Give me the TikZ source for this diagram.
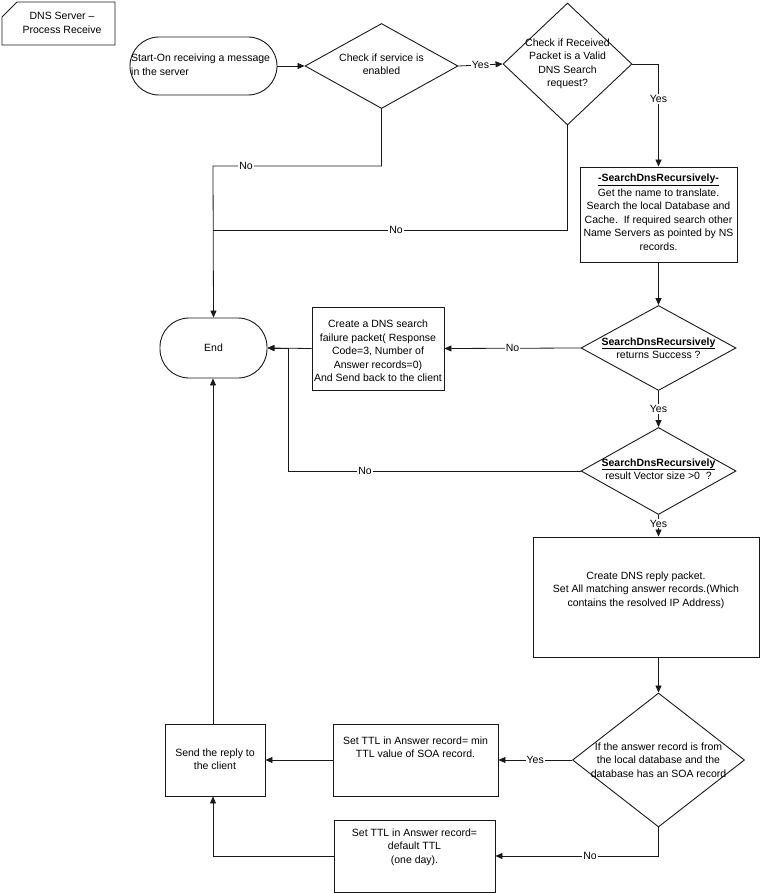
\documentclass[tikz,border=0pt]{standalone}
\usepackage{fontspec}
\setmainfont{Liberation Sans}
\usetikzlibrary{shapes.geometric,arrows.meta}
\begin{document}
\begin{tikzpicture}[x=1pt,y=-1pt,
  every node/.style={font=\fontsize{10.5}{13.5}\selectfont},
  ln/.style={draw=black!90,line width=0.8pt},
  arr/.style={ln,-{Triangle[length=7pt,width=6pt]}},
  box/.style={draw=black!90,line width=0.9pt,rectangle,inner sep=0pt},
  term/.style={draw=black!90,line width=0.9pt,rectangle,rounded corners=29pt,inner sep=0pt},
  dia/.style={draw=black!90,line width=0.9pt,diamond,inner sep=0pt},
  txt/.style={align=center,inner sep=0pt},
  lab/.style={fill=white,inner sep=1pt}]
\useasboundingbox (0,0) rectangle (760,893);
% title
\draw[draw=black!90,line width=0.9pt] (2,17) -- (17,2) -- (115,2) -- (115,45) -- (2,45) -- cycle;
\node[txt] (title) at (62,23) {DNS Server --\\Process Receive};
% start
\node[term,minimum width=147pt,minimum height=58pt] (start) at (203.5,66) {};
\node[align=left,anchor=west,inner sep=0pt] (startt) at (131,64.5) {Start-On receiving a message\\in the server};
% diamonds
\node[dia,minimum width=153pt,minimum height=85pt] (d1) at (381.5,66) {};
\node[txt] (d1t) at (381.5,64) {Check if service is\\enabled};
\node[dia,minimum width=129pt,minimum height=122pt] (d2) at (567.5,64) {};
\node[txt] (d2t) at (567.5,64) {Check if Received\\Packet is a Valid\\DNS Search\\request?};
% SDR box
\node[box,minimum width=157pt,minimum height=95pt] (sdr) at (658.5,214.5) {};
\node[txt] (sdrt) at (658.5,212) {\underline{\textbf{-SearchDnsRecursively-}}\\[1pt]Get the name to translate.\\Search the local Database and\\Cache.\ \ If required search other\\Name Servers as pointed by NS\\records.};
% End
\node[term,minimum width=107pt,minimum height=60pt] (end) at (213.5,348) {};
\node[txt] (endt) at (213.5,348) {End};
% failure box
\node[box,minimum width=132pt,minimum height=83pt] (fail) at (378,348.5) {};
\node[txt] (failt) at (378,351) {Create a DNS search\\failure packet( Response\\Code=3, Number of\\Answer records=0)\\And Send back to the client};
% diamond 3
\node[dia,minimum width=155pt,minimum height=85pt] (d3) at (658.5,348) {};
\node[txt] (d3t) at (658.5,348) {\underline{\textbf{SearchDnsRecursively}}\\returns Success ?};
% diamond 4
\node[dia,minimum width=155pt,minimum height=87pt] (d4) at (658.5,471) {};
\node[txt] (d4t) at (658.5,469) {\underline{\textbf{SearchDnsRecursively}}\\result Vector size >0\ \ ?};
% reply box
\node[box,minimum width=226pt,minimum height=120pt] (reply) at (646,597) {};
\node[txt] (replyt) at (646,590) {Create DNS reply packet.\\Set All matching answer records.(Which\\contains the resolved IP Address)};
% diamond 5
\node[dia,minimum width=172pt,minimum height=134pt] (d5) at (658.5,760) {};
\node[txt] (d5t) at (658.5,760) {If the answer record is from\\the local database and the\\database has an SOA record};
% TTL min
\node[box,minimum width=165pt,minimum height=72pt] (tmin) at (415.5,760) {};
\node[txt] (tmint) at (415.5,747) {Set TTL in Answer record= min\\TTL value of SOA record.};
% send
\node[box,minimum width=100pt,minimum height=72pt] (send) at (215,760) {};
\node[txt] (sendt) at (215,759) {Send the reply to\\the client};
% TTL default
\node[box,minimum width=161pt,minimum height=72pt] (tdef) at (414.5,856) {};
\node[txt] (tdeft) at (414.5,847) {Set TTL in Answer record=\\default TTL\\(one day).};
% junction coordinates
\coordinate (j1) at (213,166);
\coordinate (j2) at (213,230);
\coordinate (j3) at (288,348);
\coordinate (j4) at (213,856);
% connectors
\draw[arr] (start.east) -- (d1.west);
\draw[arr] (d1.east) -- node[lab] (y1) {Yes} (d2.west);
\draw[arr] (d2.east) -| node[lab,pos=0.67] (y2) {Yes} (sdr.north);
\draw[arr] (d1.south) |- (j1) -- (end.north);
\node[lab] (n1) at (246,166) {No};
\draw[ln] (d2.south) |- (j2);
\node[lab] (n2) at (396,230) {No};
\draw[arr] (sdr.south) -- (d3.north);
\draw[arr] (d3.west) -- node[lab] (n3) {No} (fail.east);
\draw[arr] (fail.west) -- (end.east);
\draw[arr] (d3.south) -- node[lab] (y3) {Yes} (d4.north);
\draw[arr] (d4.west) -- (j3 |- d4.west) -- (j3) -- (end.east);
\node[lab] (n4) at (365,471) {No};
\draw[arr] (d4.south) -- node[lab,pos=0.4] (y4) {Yes} (d4.south |- reply.north);
\draw[arr] (d5.north |- reply.south) -- (d5.north);
\draw[arr] (d5.west) -- node[lab] (y5) {Yes} (tmin.east);
\draw[arr] (tmin.west) -- (send.east);
\draw[arr] (d5.south) |- node[lab,pos=0.71] (n5) {No} (tdef.east);
\draw[arr] (tdef.west) -- (j4) -- (j4 |- send.south);
\draw[arr] (send.north -| j4) -- (end.south -| j4);
\end{tikzpicture}
\end{document}
